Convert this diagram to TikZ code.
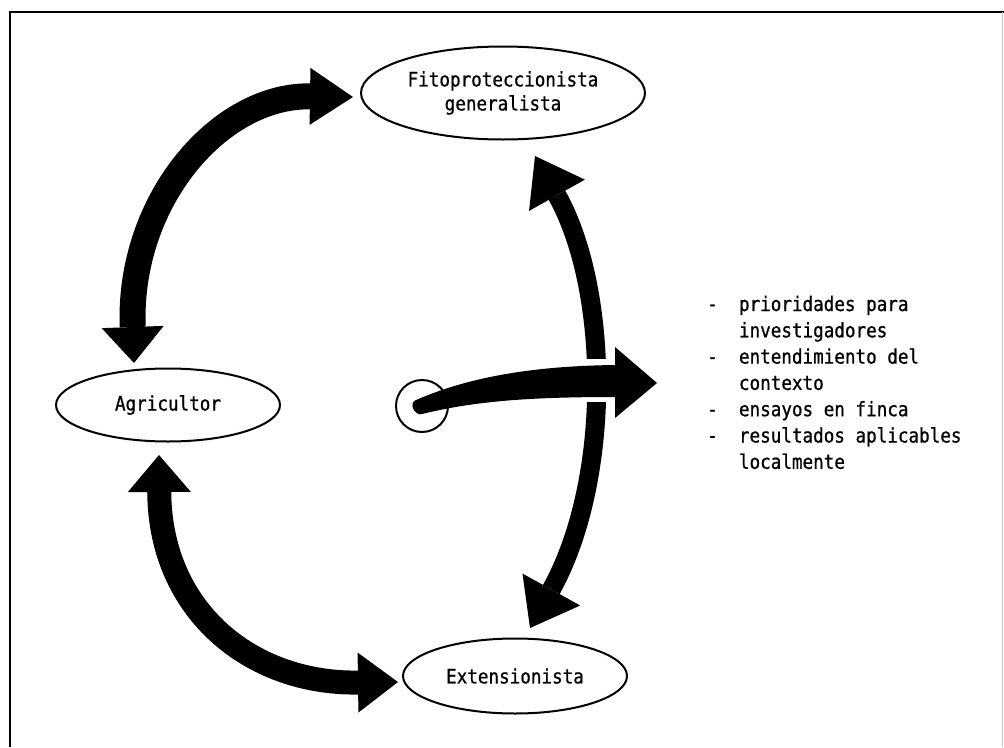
\documentclass[tikz,border=0pt]{standalone}
\usepackage{fontspec}
\newfontfamily\tw[FakeStretch=0.88,FakeBold=0.8]{DejaVu Sans Mono}
\usetikzlibrary{arrows.meta,shapes.geometric,calc}
\begin{document}
\begin{tikzpicture}[x=1pt,y=-1pt,
  every node/.style={font=\tw\fontsize{20}{24}\selectfont},
  actor/.style={draw, ellipse, line width=2pt, inner sep=0pt, align=center},
  flow/.style={line width=#1, line cap=butt},
  frameline/.style={line width=2pt},
]
\useasboundingbox (0,0) rectangle (1004,747);
% frame
\draw[frameline] (10,747) -- (10,12) -- (1004,12);
\draw[gray!45, line width=1pt] (1002,12) -- (1002,747);

% nodes
\node[actor, minimum width=284pt, minimum height=93pt] (fito) at (503,93) {Fitoproteccionista\\generalista};
\node[actor, minimum width=224pt, minimum height=73pt] (agr) at (168,405) {Agricultor};
\node[actor, minimum width=224pt, minimum height=75pt] (ext) at (515,676) {Extensionista};

% arrows
\draw[flow=26pt, {Triangle[length=36pt,width=62pt,line width=0pt]}-{Triangle[length=43pt,width=57pt,line width=0pt]}]
  ($(agr)+(-34,-42)$) .. controls (128,200) and (220,95) .. ($(fito)+(-150,4)$);
\draw[flow=24pt, {Triangle[length=37pt,width=63pt,line width=0pt]}-{Triangle[length=40pt,width=60pt,line width=0pt]}]
  ($(agr)+(-9,50)$) .. controls (160,610) and (250,684) .. ($(ext)+(-117,6)$);
\draw[flow=19pt, {Triangle[length=45pt,width=64pt,line width=0pt]}-{Triangle[length=44pt,width=66pt,line width=0pt]}]
  ($(fito)+(32,63)$) .. controls (610,290) and (612,480) .. ($(ext)+(15,-48)$);

% gap where the output arrow crosses
\fill[white] (579,359) rectangle (612,402);

% hub and output arrow
\node[draw, circle, line width=2pt, minimum size=52pt, inner sep=0pt] (hub) at (422,406) {};
\coordinate (out) at (657,383);
\fill (414,401) .. controls (465,378) and (530,366) .. (615,365) -- (615,347) -- (out) -- (615,418) -- (615,397)
  .. controls (530,397) and (475,401) .. (422,414) .. controls (417,416) and (409,407) .. cycle;

% list
\node[anchor=base west, inner sep=0pt] (list) at (707,311) {%
  \fontsize{20}{26.3}\selectfont
  \begin{tabular}[t]{@{}l@{\hspace{21.2pt}}l@{}}
  - & prioridades para\\
    & investigadores\\
  - & entendimiento del\\
    & contexto\\
  - & ensayos en finca\\
  - & resultados aplicables\\
    & localmente
  \end{tabular}};
\end{tikzpicture}
\end{document}
